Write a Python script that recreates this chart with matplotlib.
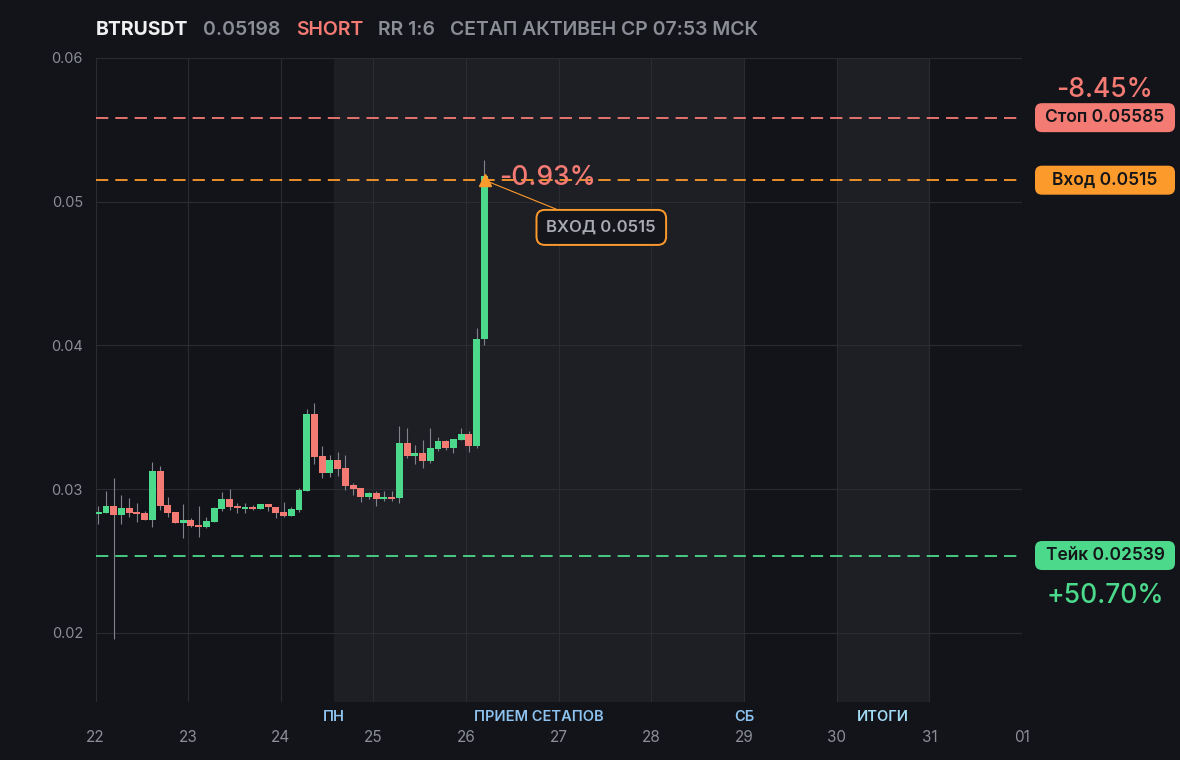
import matplotlib
matplotlib.use("Agg")
import matplotlib.pyplot as plt
from matplotlib.patches import FancyBboxPatch
from matplotlib.transforms import IdentityTransform

plt.rcParams['font.family'] = ['Inter', 'DejaVu Sans']

# 2h candles, BTRUSDT
opens = [0.02829, 0.02836, 0.02882, 0.02822, 0.02868, 0.02841, 0.02834, 0.02788, 0.03125, 0.02889,
         0.02841, 0.02767, 0.02785, 0.02751, 0.02739, 0.02774, 0.02861, 0.02931, 0.02882, 0.02861,
         0.02878, 0.02861, 0.02896, 0.02875, 0.02841, 0.02815, 0.02857, 0.02988, 0.03520, 0.03229,
         0.03113, 0.03201, 0.03146, 0.03028, 0.03007, 0.02947, 0.02975, 0.02933, 0.02947, 0.02940,
         0.03321, 0.03231, 0.03249, 0.03196, 0.03277, 0.03333, 0.03284, 0.03346, 0.03381, 0.03300,
         0.04042]
highs = [0.02882, 0.02986, 0.03076, 0.02958, 0.02938, 0.02903, 0.02848, 0.03187, 0.03159, 0.02945,
         0.02841, 0.02896, 0.02799, 0.02882, 0.02806, 0.02875, 0.02979, 0.03000, 0.02903, 0.02903,
         0.02889, 0.02896, 0.02896, 0.02875, 0.02910, 0.02875, 0.03007, 0.03561, 0.03603, 0.03298,
         0.03236, 0.03256, 0.03236, 0.03044, 0.03007, 0.02982, 0.02988, 0.02988, 0.02988, 0.03443,
         0.03423, 0.03305, 0.03340, 0.03423, 0.03360, 0.03346, 0.03353, 0.03423, 0.03402, 0.04123,
         0.05290]
lows = [0.02760, 0.02836, 0.01956, 0.02760, 0.02808, 0.02774, 0.02788, 0.02739, 0.02855, 0.02808,
        0.02767, 0.02663, 0.02739, 0.02670, 0.02732, 0.02774, 0.02850, 0.02857, 0.02836, 0.02836,
        0.02855, 0.02861, 0.02850, 0.02801, 0.02806, 0.02815, 0.02843, 0.02988, 0.03176, 0.03079,
        0.03085, 0.03092, 0.02995, 0.02961, 0.02912, 0.02933, 0.02885, 0.02919, 0.02919, 0.02901,
        0.03215, 0.03176, 0.03148, 0.03182, 0.03263, 0.03270, 0.03249, 0.03346, 0.03256, 0.03289,
        0.04000]
closes = [0.02841, 0.02882, 0.02822, 0.02868, 0.02836, 0.02829, 0.02788, 0.03125, 0.02885, 0.02836,
          0.02767, 0.02785, 0.02746, 0.02739, 0.02778, 0.02868, 0.02931, 0.02878, 0.02868, 0.02875,
          0.02861, 0.02896, 0.02875, 0.02836, 0.02815, 0.02861, 0.02993, 0.03520, 0.03224, 0.03113,
          0.03201, 0.03141, 0.03023, 0.03002, 0.02947, 0.02975, 0.02933, 0.02947, 0.02933, 0.03321,
          0.03231, 0.03249, 0.03196, 0.03284, 0.03333, 0.03284, 0.03353, 0.03381, 0.03298, 0.04042,
          0.05180]
times = [22.03 + i / 12 for i in range(len(opens))]

stop = 0.05585
entry = 0.0515
take = 0.02539
entry_time = 26.2

day_ticks = [22, 23, 24, 25, 26, 27, 28, 29, 30, 31, 32]
day_labels = ['22', '23', '24', '25', '26', '27', '28', '29', '30', '31', '01']
price_ticks = [0.02, 0.03, 0.04, 0.05, 0.06]

bands = [(24.57, 29.0), (30.0, 31.0)]
band_labels = [(24.57, 'ПН'), (26.785, 'ПРИЕМ СЕТАПОВ'), (29.0, 'СБ'), (30.5, 'ИТОГИ')]

bg = '#131419'
band_bg = '#1e1f24'
grid_c = '#2a2c32'
green = '#4cd98b'
red = '#f47a74'
orange = '#fd9a2c'
gray = '#8b8e96'

fig = plt.figure(figsize=(11.8, 7.6), dpi=100, facecolor=bg)
ax = fig.add_axes([95.5 / 1180, 1 - 702 / 760, (1022 - 95.5) / 1180, (702 - 58) / 760])
ax.set_facecolor(bg)
for s in ax.spines.values():
    s.set_visible(False)

ax.set_xlim(22, 32)
ax.set_ylim(0.0152, 0.06)

for a, b in bands:
    ax.axvspan(a, b, color=band_bg, lw=0, zorder=0)

for d in day_ticks:
    ax.axvline(d, color=grid_c, lw=0.8, zorder=1)
for p in price_ticks:
    ax.axhline(p, color=grid_c, lw=0.8, zorder=1)

ax.set_xticks(day_ticks)
ax.set_xticklabels(day_labels)
ax.set_yticks(price_ticks)
ax.set_yticklabels(['%.2f' % p for p in price_ticks])
ax.tick_params(axis='x', length=0, pad=20, labelsize=11, labelcolor=gray)
ax.tick_params(axis='y', length=0, pad=9, labelsize=10.5, labelcolor=gray)

for x, lab in band_labels:
    c = '#a3dcf5' if lab == 'ИТОГИ' else '#8dc3f0'
    ax.text(x, -0.0235, lab, transform=ax.get_xaxis_transform(), ha='center', va='center',
            fontsize=10.5, fontweight='semibold', color=c)

# candles
cols = [green if c >= o else red for o, c in zip(opens, closes)]
ax.vlines(times, lows, highs, color='#80838a', lw=0.8, zorder=3)
ax.bar(times, [c - o for o, c in zip(opens, closes)], bottom=opens, width=0.075,
       color=cols, lw=0, zorder=4)

# levels
for lvl, c in [(stop, red), (entry, orange), (take, green)]:
    ax.axhline(lvl, color=c, lw=1.3, dashes=(6.8, 3.9), zorder=5)

ax.plot([entry_time], [entry], marker='^', ms=9, color=orange, mec=orange, zorder=7)
ax.annotate('-0.93%', xy=(entry_time, entry), xytext=(10.5, 1.5), textcoords='offset points',
            ha='left', va='center', fontsize=19, color=red, fontweight='medium', zorder=8)
ax.annotate('ВХОД 0.0515', xy=(entry_time, entry), xytext=(84, -34), textcoords='offset points',
            ha='center', va='center', fontsize=12, color='#a9abb2', fontweight='semibold',
            bbox=dict(boxstyle='round,pad=0.6,rounding_size=0.5', fc='#15161b', ec=orange, lw=1.4),
            arrowprops=dict(arrowstyle='-', color=orange, lw=0.8, shrinkA=0, shrinkB=3), zorder=8)


def pill(level, label, color):
    _, yp = ax.transData.transform((0, level))
    box = FancyBboxPatch((1035, yp - 14.5), 140, 29, boxstyle='round,pad=0,rounding_size=7',
                         transform=IdentityTransform(), fc=color, ec='none')
    fig.add_artist(box)
    fig.text(1105, yp, label, transform=IdentityTransform(), ha='center', va='center',
             fontsize=12.5, color='#141519', fontweight='semibold')
    return yp


y_stop = pill(stop, 'Стоп 0.05585', red)
pill(entry, 'Вход 0.0515', orange)
y_take = pill(take, 'Тейк 0.02539', green)
fig.text(1105, y_stop + 28, '-8.45%', transform=IdentityTransform(), ha='center', va='center',
         fontsize=19, color=red, fontweight='medium')
fig.text(1105, y_take - 40, '+50.70%', transform=IdentityTransform(), ha='center', va='center',
         fontsize=19, color=green, fontweight='medium')

# header
renderer = fig.canvas.get_renderer()
parts = [('BTRUSDT', '#f0f0f2', 'bold'), ('0.05198', gray, 'semibold'), ('SHORT', red, 'semibold'),
         ('RR 1:6', gray, 'semibold'), ('СЕТАП АКТИВЕН СР 07:53 МСК', gray, 'semibold')]
x = 96
for txt, c, w in parts:
    t = fig.text(x, 725, txt, transform=IdentityTransform(), ha='left', va='baseline',
                 fontsize=14, color=c, fontweight=w)
    x = t.get_window_extent(renderer).x1 + 15

fig.savefig('out.png', dpi=100, facecolor=bg)
